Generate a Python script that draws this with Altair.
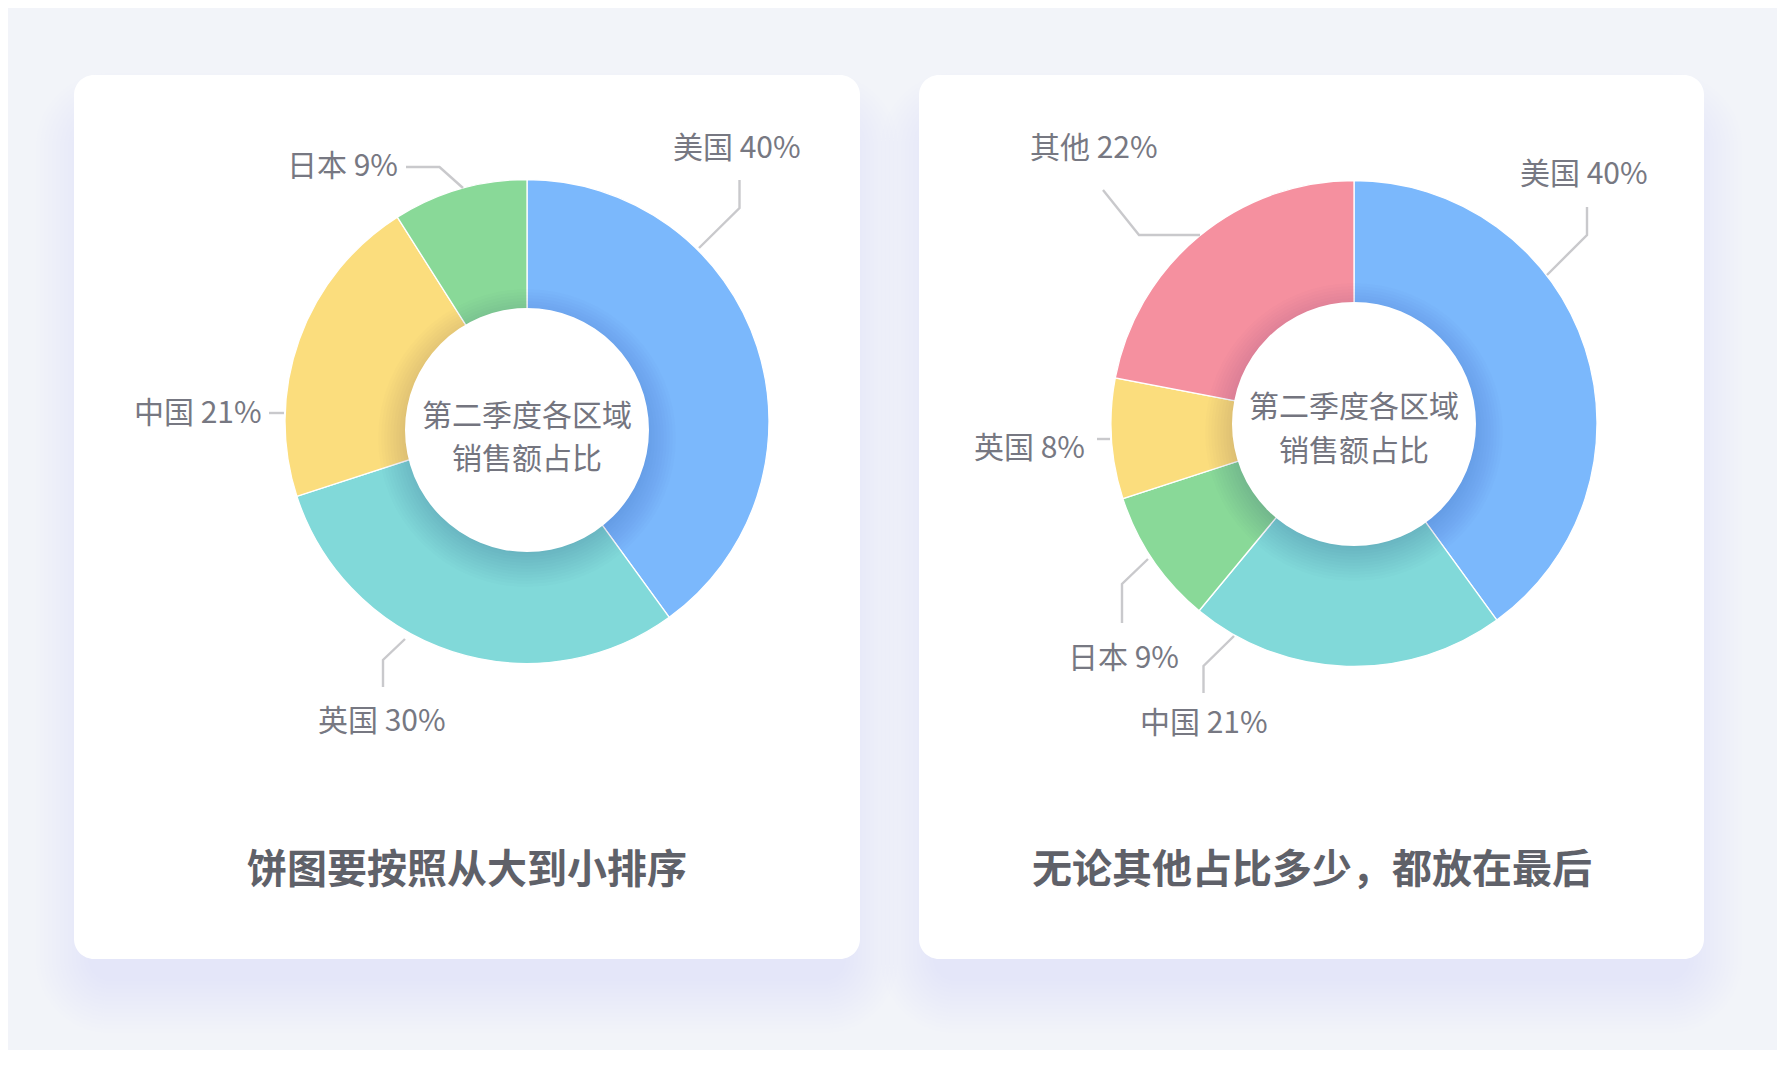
import altair as alt
import pandas as pd

# ---------------- data ----------------
CATS_1 = ["美国", "英国", "中国", "日本"]
VALS_1 = [40, 30, 21, 9]
CATS_2 = ["美国", "中国", "日本", "英国", "其他"]
VALS_2 = [40, 21, 9, 8, 22]
CENTER_TEXT = ["第二季度各区域", "销售额占比"]
TITLES = ["饼图要按照从大到小排序", "无论其他占比多少，都放在最后"]

# ---------------- styles ----------------
BLUE, TEAL, YELLOW, GREEN, PINK = "#7bb8fc", "#81d9d9", "#fbdd7d", "#89d998", "#f5909f"
COLORS_1 = [BLUE, TEAL, YELLOW, GREEN]
COLORS_2 = [BLUE, TEAL, GREEN, YELLOW, PINK]
FONT = "Noto Sans CJK SC"
LABEL_COLOR = "#777882"
CENTER_COLOR = "#74757f"
TITLE_COLOR = "#5f6169"
LINE_COLOR = "#c9c9cc"
BG = "#f2f4f9"

# ---------------- layout (page pixel coordinates) ----------------
W, H = 1769, 1042
X0, Y0 = 8, 8
CARDS = [(74, 75, 860, 959), (919, 75, 1704, 959)]
DONUTS = [
    dict(cx=527, cy=421.5, r=242, hx=527, hy=430, hr=122, t1=417, t2=460),
    dict(cx=1354, cy=423.5, r=243, hx=1354, hy=424, hr=122, t1=408, t2=452),
]
# label anchors (left x, middle y) in the order of the categories above
LABEL_POS_1 = [(673, 149), (318, 722), (134, 414), (287, 167)]
LABEL_POS_2 = [(1520, 175), (1140, 724), (1068, 659), (974, 449), (1030, 149)]
LEADERS_1 = [
    [(739.5, 180), (739.5, 208), (699, 248)],
    [(383, 687), (383, 660), (405, 639)],
    [(269, 413), (284, 413)],
    [(406, 167), (439.5, 167), (463, 188)],
]
LEADERS_2 = [
    [(1587, 207), (1587, 235), (1547, 275)],
    [(1203.5, 693), (1203.5, 666), (1234, 636)],
    [(1122, 623), (1122, 584), (1148, 559)],
    [(1097, 439), (1110, 439)],
    [(1103, 190), (1139, 235), (1200, 235)],
]
TITLE_POS = [(467, 871), (1312, 871)]

xs = alt.Scale(domain=[X0, X0 + W], nice=False, zero=False)
ys = alt.Scale(domain=[Y0, Y0 + H], nice=False, zero=False, reverse=True)


def XE(f):
    return alt.X(f, type="quantitative", scale=xs, axis=None)


def YE(f):
    return alt.Y(f, type="quantitative", scale=ys, axis=None)


def disc_size(r):
    # Vega circle symbol: radius = sqrt(size) / 2
    return (2 * r) ** 2


layers = []

# ---- card shadows ----
for j in range(14):
    s = 4 * j
    rows = []
    for (x1, y1, x2, y2) in CARDS:
        rows.append(dict(x1=x1 + 14 - s, x2=x2 - 14 + s, y1=y1 + 50 - s, y2=y2 + 22 + s))
    layers.append(
        alt.Chart(pd.DataFrame(rows))
        .mark_rect(color="#9aa5d6", opacity=0.011, cornerRadius=22 + s)
        .encode(x=XE("x1"), x2="x2", y=YE("y1"), y2="y2")
    )

# ---- cards ----
card_df = pd.DataFrame([dict(x1=a, y1=b, x2=c, y2=d) for (a, b, c, d) in CARDS])
layers.append(
    alt.Chart(card_df)
    .mark_rect(color="white", cornerRadius=20)
    .encode(x=XE("x1"), x2="x2", y=YE("y1"), y2="y2")
)

# ---- donuts ----
for cats, vals, cols, dn in [(CATS_1, VALS_1, COLORS_1, DONUTS[0]), (CATS_2, VALS_2, COLORS_2, DONUTS[1])]:
    df = pd.DataFrame({"cat": cats, "val": vals, "col": cols, "ord": list(range(len(cats)))})
    layers.append(
        alt.Chart(df)
        .mark_arc(radius=dn["r"], radius2=80, stroke="white", strokeWidth=1.3)
        .encode(
            theta=alt.Theta("val:Q", stack=True),
            color=alt.Color("col:N", scale=None),
            order=alt.Order("ord:Q"),
            x=alt.value(dn["cx"] - X0),
            y=alt.value(dn["cy"] - Y0),
        )
    )

# ---- inner shadow + white hole ----
shadow_rows = []
hole_rows = []
for dn in DONUTS:
    for k in range(12):
        rr = 116 + 3 * k
        shadow_rows.append(dict(x=dn["hx"], y=dn["hy"] + 8, size=disc_size(rr)))
    hole_rows.append(dict(x=dn["hx"], y=dn["hy"], size=disc_size(dn["hr"])))
layers.append(
    alt.Chart(pd.DataFrame(shadow_rows))
    .mark_circle(color="#1a2a40", opacity=0.011)
    .encode(x=XE("x"), y=YE("y"), size=alt.Size("size:Q", scale=None))
)
layers.append(
    alt.Chart(pd.DataFrame(hole_rows))
    .mark_circle(color="white", opacity=1)
    .encode(x=XE("x"), y=YE("y"), size=alt.Size("size:Q", scale=None))
)

# ---- center text ----
ct_rows = []
for dn in DONUTS:
    ct_rows.append(dict(x=dn["hx"], y=dn["t1"], t=CENTER_TEXT[0]))
    ct_rows.append(dict(x=dn["hx"], y=dn["t2"], t=CENTER_TEXT[1]))
layers.append(
    alt.Chart(pd.DataFrame(ct_rows))
    .mark_text(font=FONT, fontSize=30, color=CENTER_COLOR, align="center", baseline="middle")
    .encode(x=XE("x"), y=YE("y"), text="t:N")
)

# ---- leader lines ----
line_rows = []
for gi, leaders in enumerate([LEADERS_1, LEADERS_2]):
    for li, pts in enumerate(leaders):
        for pi, (px, py) in enumerate(pts):
            line_rows.append(dict(id=f"{gi}-{li}", i=pi, x=px, y=py))
layers.append(
    alt.Chart(pd.DataFrame(line_rows))
    .mark_line(color=LINE_COLOR, strokeWidth=2.4)
    .encode(x=XE("x"), y=YE("y"), detail="id:N", order="i:Q")
)

# ---- labels ----
lab_rows = []
for cats, vals, pos in [(CATS_1, VALS_1, LABEL_POS_1), (CATS_2, VALS_2, LABEL_POS_2)]:
    for c, v, (px, py) in zip(cats, vals, pos):
        lab_rows.append(dict(x=px, y=py, t=f"{c} {v}%"))
layers.append(
    alt.Chart(pd.DataFrame(lab_rows))
    .mark_text(font=FONT, fontSize=30, color=LABEL_COLOR, align="left", baseline="middle")
    .encode(x=XE("x"), y=YE("y"), text="t:N")
)

# ---- titles ----
title_df = pd.DataFrame([dict(x=p[0], y=p[1], t=t) for p, t in zip(TITLE_POS, TITLES)])
layers.append(
    alt.Chart(title_df)
    .mark_text(font=FONT, fontSize=40, fontWeight="bold", color=TITLE_COLOR, align="center", baseline="middle")
    .encode(x=XE("x"), y=YE("y"), text="t:N")
)

chart = (
    alt.layer(*layers)
    .properties(width=W, height=H, background=BG, padding=0,
                autosize=alt.AutoSizeParams(type="none"))
    .configure_view(stroke=None)
)

chart.save("out.html", embed_options={"renderer": "svg", "actions": False})
